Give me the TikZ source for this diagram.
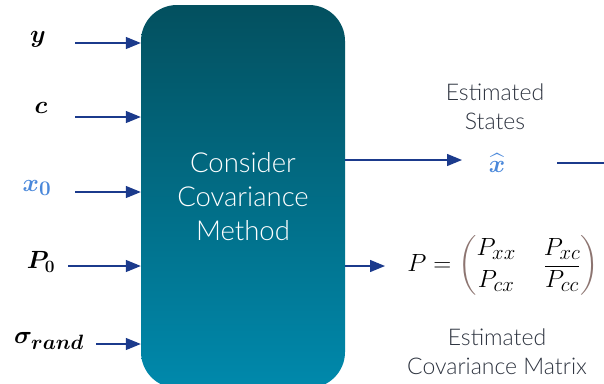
\documentclass[tikz,border=0pt]{standalone}
\usepackage{amsmath}
\usepackage{bm}
\usepackage{fontspec}
\newfontfamily\lightsans{Lato Light}
\usetikzlibrary{arrows.meta}

\definecolor{flow}{HTML}{1B3A8C}
\definecolor{boxtop}{HTML}{03505F}
\definecolor{boxbot}{HTML}{0089AC}
\definecolor{hilite}{HTML}{4A88DA}
\definecolor{captext}{HTML}{2E3440}
\definecolor{parcol}{HTML}{8C7470}

\tikzset{
  flowline/.style={draw=flow, line width=1.3pt, -{Triangle[length=15pt,width=12pt]}},
  plainline/.style={draw=flow, line width=1.3pt},
  inlabel/.style={inner sep=0pt, font=\fontsize{30}{32}\selectfont},
  caption/.style={align=center, text=captext, font=\lightsans\fontsize{23}{29}\selectfont},
  method/.style={rounded corners=36pt, minimum width=204pt, minimum height=383pt,
    top color=boxtop, bottom color=boxbot, draw=none, text=white, align=center,
    font=\lightsans\fontsize{27.5}{34}\selectfont}
}

\begin{document}
\begin{tikzpicture}[x=1pt, y=-1pt]
  \useasboundingbox (0,0) rectangle (604,383);
  \clip (0,0) rectangle (604,383);

  % central processing block
  \node[method] (box) at (243,196.5) {Consider\\Covariance\\Method};

  % inputs
  \node[inlabel] (ly) at (38,39) {$\bm{y}$};
  \node[inlabel] (lc) at (41,108) {$\bm{c}$};
  \node[inlabel, text=hilite] (lx) at (37,188) {$\bm{x_0}$};
  \node[inlabel, font=\fontsize{26}{30}\selectfont] (lp) at (41,262) {$\bm{P_0}$};
  \node[inlabel, font=\fontsize{28}{30}\selectfont] (ls) at (49,341) {$\bm{\sigma_{rand}}$};

  \coordinate (sy) at (75,43);
  \coordinate (sc) at (75,117);
  \coordinate (sx) at (75,192);
  \coordinate (sp) at (68,266);
  \coordinate (ss) at (96,344);

  \draw[flowline] (sy) -- (sy -| box.west);
  \draw[flowline] (sc) -- (sc -| box.west);
  \draw[flowline] (sx) -- (sx -| box.west);
  \draw[flowline] (sp) -- (sp -| box.west);
  \draw[flowline] (ss) -- (ss -| box.west);

  % estimated states output
  \node[caption] (cstates) at (495,107) {Estimated\\States};
  \node[inlabel, text=hilite] (xhat) at (497,163) {$\widehat{\bm{x}}$};
  \coordinate (oxs) at (345,160);
  \coordinate (oxe) at (462,160);
  \draw[flowline] (box.east |- oxs) -- (oxe);
  \coordinate (tx) at (604,163);
  \draw[plainline] (557,163) -- (tx);

  % estimated covariance output
  \node[inner sep=0pt, font=\fontsize{28}{32}\selectfont] (pmat) at (503,265)
    {$P = \color{parcol}\left(\color{black}\setlength{\arraycolsep}{14pt}
      \begin{matrix} P_{xx} & P_{xc}\\ P_{cx} & \overline{P_{cc}} \end{matrix}
      \color{parcol}\right)$};
  \coordinate (ops) at (345,266);
  \coordinate (ope) at (385,266);
  \draw[flowline] (box.east |- ops) -- (ope);
  \node[caption] (ccov) at (497,352) {Estimated\\Covariance Matrix};
\end{tikzpicture}
\end{document}
